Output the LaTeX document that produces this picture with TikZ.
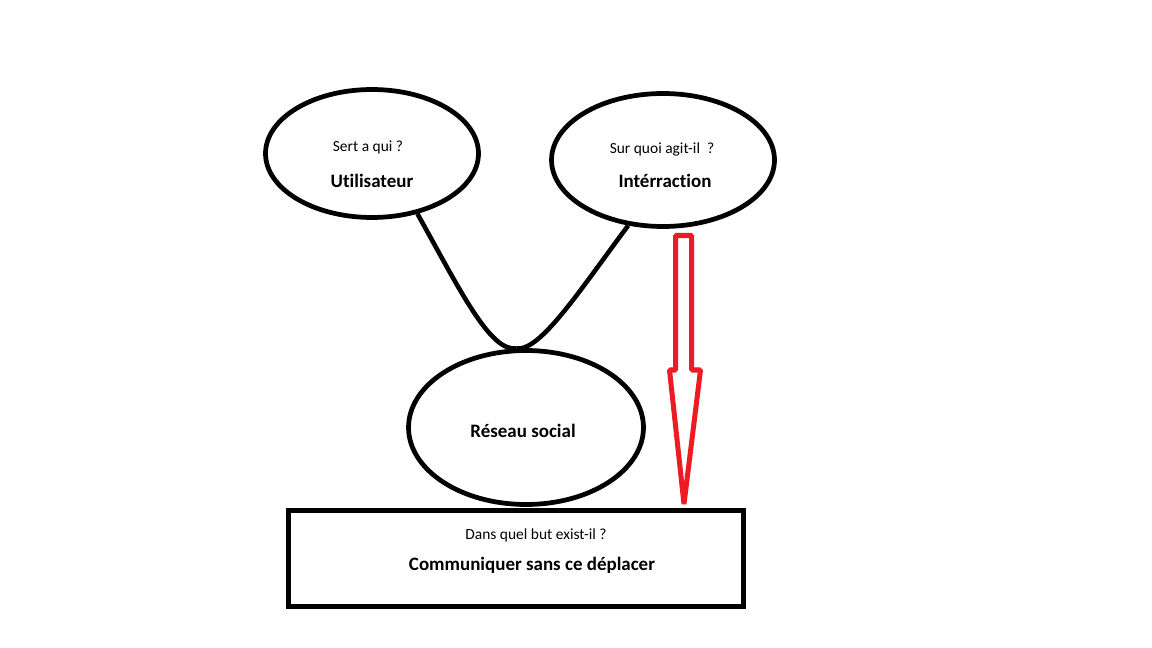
\documentclass[tikz,border=0pt]{standalone}
\usepackage{fontspec}
\setmainfont{Carlito}[Ligatures={NoCommon}]
\usetikzlibrary{shapes.geometric}
\definecolor{paintred}{HTML}{ED1C24}
\tikzset{
  bubble/.style={ellipse, draw=black, line width=2.7pt, inner sep=0pt},
  goalbox/.style={rectangle, draw=black, line width=2.85pt, inner sep=0pt},
  asktext/.style={font=\fontsize{8.8}{10}\selectfont, inner sep=0pt},
  maintext/.style={font=\bfseries\fontsize{10.8}{13}\selectfont, inner sep=0pt},
  link/.style={draw=black, line width=2.6pt},
  bigarrow/.style={draw=paintred, line width=2.85pt, line join=bevel}
}
\begin{document}
\begin{tikzpicture}[x=0.02cm, y=-0.02cm]
\useasboundingbox (0,0) rectangle (1152,648);
\fill[white] (0,0) rectangle (1152,648);
% ellipses
\node[bubble, minimum width=4.26cm, minimum height=2.56cm] (u) at (372,153.5) {};
\node[bubble, minimum width=4.46cm, minimum height=2.66cm] (i) at (663,160) {};
\node[bubble, minimum width=4.70cm, minimum height=3.08cm] (r) at (526,427.5) {};
\node[goalbox, minimum width=9.09cm, minimum height=1.92cm] (g) at (516,558.5) {};
% texts
\node[asktext] (uq) at (368,147) {Sert a qui ?};
\node[maintext] (ut) at (372,181) {Utilisateur};
\node[asktext] (iq) at (662,149) {Sur quoi agit-il\ \ ?};
\node[maintext] (it) at (665,181) {Intérraction};
\node[maintext] (rt) at (523,431) {Réseau social};
\node[asktext] (gq) at (536,535) {Dans quel but exist-il ?};
\node[maintext] (gt) at (532,565) {Communiquer sans ce déplacer};
% connectors
\draw[link] (u.-53) .. controls (460,290) and (490,352) .. (r.97);
\draw[link] (r.97) .. controls (540,352) and (580,290) .. (i.-118);
% red arrow
\coordinate (atip) at (684,504);
\draw[bigarrow] (675.5,235.5) -- (691.5,235.5) -- (691.5,370) -- (700.5,370)
  -- (atip) -- (669.5,370) -- (675.5,370) -- cycle;
\end{tikzpicture}
\end{document}
